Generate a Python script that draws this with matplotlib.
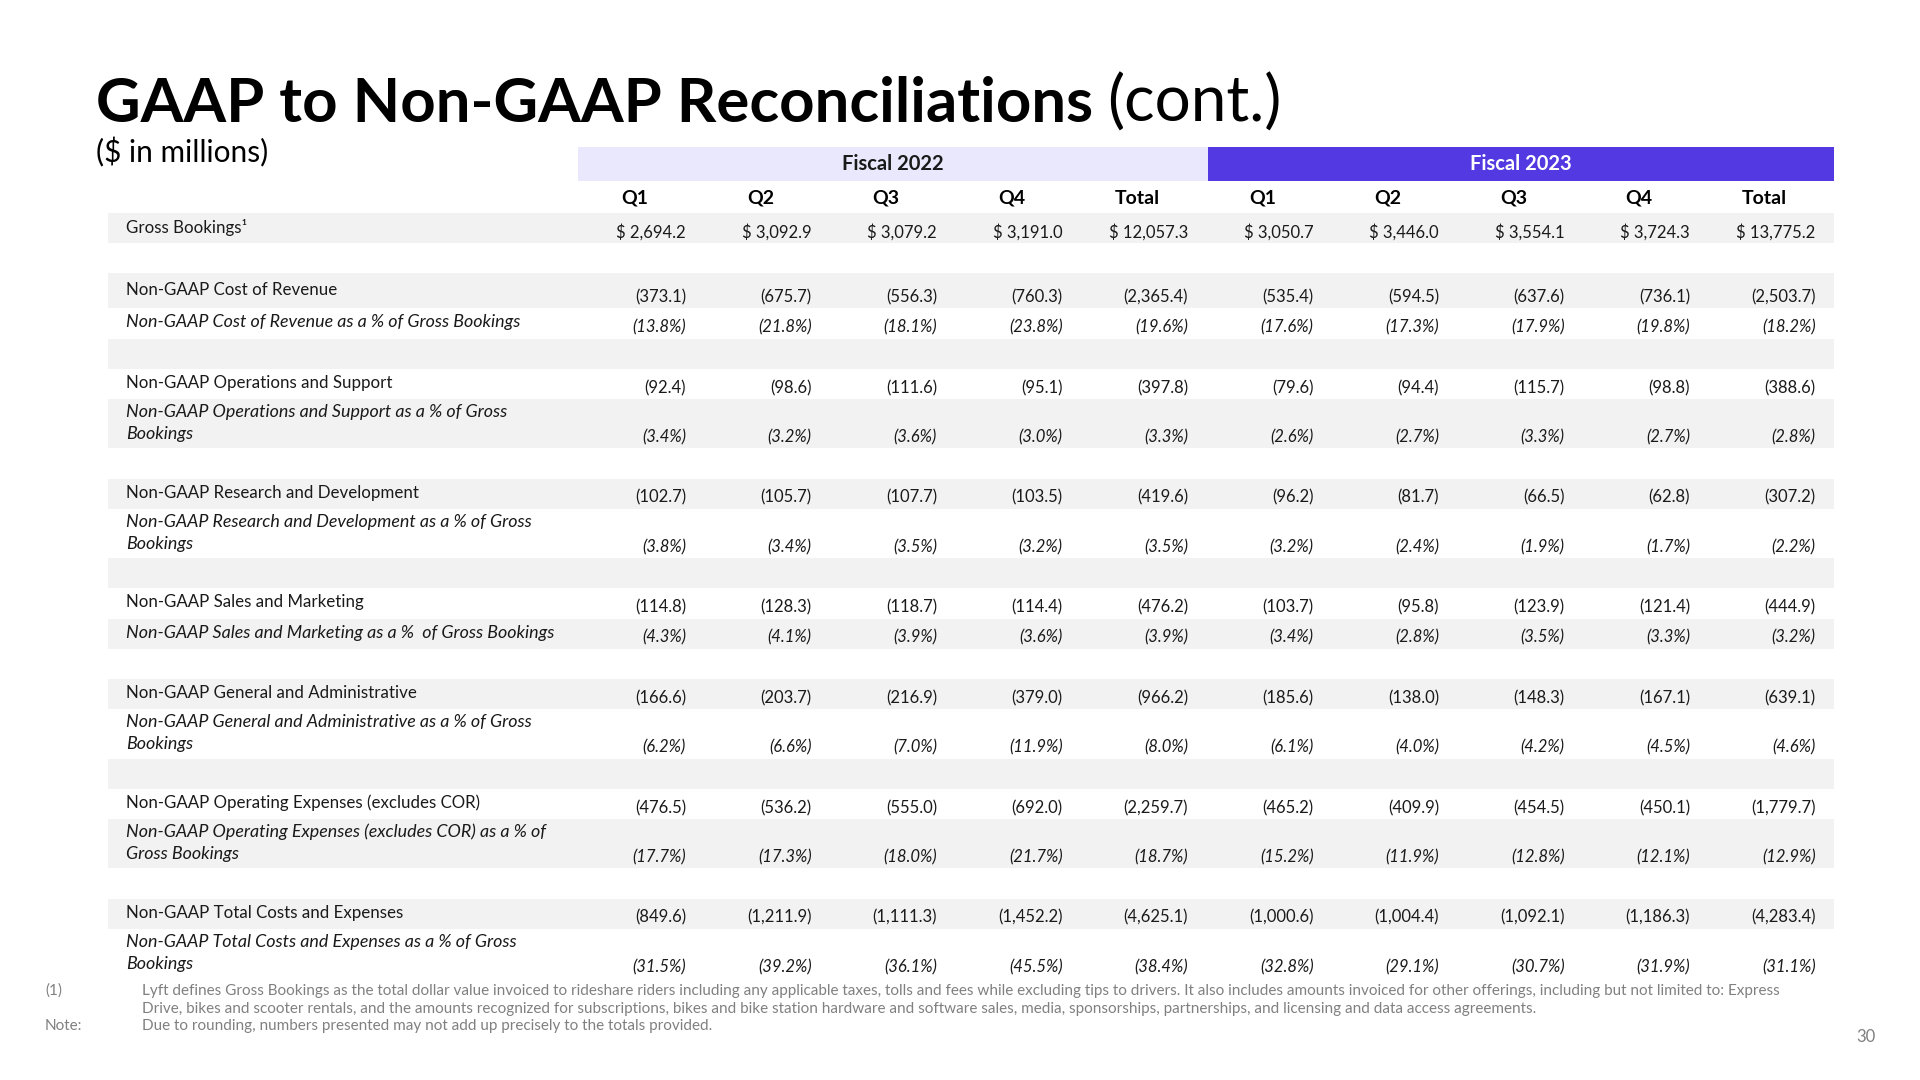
import matplotlib
matplotlib.use('Agg')
import matplotlib.pyplot as plt
from matplotlib.patches import Rectangle

# Global
plt.rcParams['font.family'] = ['Lato', 'DejaVu Sans']
plt.rcParams['font.size'] = 12

# Data ($ in millions)
years = ['Fiscal 2022', 'Fiscal 2023']
quarters = ['Q1', 'Q2', 'Q3', 'Q4', 'Total']

gross = [2694.2, 3092.9, 3079.2, 3191.0, 12057.3, 3050.7, 3446.0, 3554.1, 3724.3, 13775.2]
cor = [373.1, 675.7, 556.3, 760.3, 2365.4, 535.4, 594.5, 637.6, 736.1, 2503.7]
cor_pct = [13.8, 21.8, 18.1, 23.8, 19.6, 17.6, 17.3, 17.9, 19.8, 18.2]
ops = [92.4, 98.6, 111.6, 95.1, 397.8, 79.6, 94.4, 115.7, 98.8, 388.6]
ops_pct = [3.4, 3.2, 3.6, 3.0, 3.3, 2.6, 2.7, 3.3, 2.7, 2.8]
rd = [102.7, 105.7, 107.7, 103.5, 419.6, 96.2, 81.7, 66.5, 62.8, 307.2]
rd_pct = [3.8, 3.4, 3.5, 3.2, 3.5, 3.2, 2.4, 1.9, 1.7, 2.2]
sm = [114.8, 128.3, 118.7, 114.4, 476.2, 103.7, 95.8, 123.9, 121.4, 444.9]
sm_pct = [4.3, 4.1, 3.9, 3.6, 3.9, 3.4, 2.8, 3.5, 3.3, 3.2]
ga = [166.6, 203.7, 216.9, 379.0, 966.2, 185.6, 138.0, 148.3, 167.1, 639.1]
ga_pct = [6.2, 6.6, 7.0, 11.9, 8.0, 6.1, 4.0, 4.2, 4.5, 4.6]
opex = [476.5, 536.2, 555.0, 692.0, 2259.7, 465.2, 409.9, 454.5, 450.1, 1779.7]
opex_pct = [17.7, 17.3, 18.0, 21.7, 18.7, 15.2, 11.9, 12.8, 12.1, 12.9]
tce = [849.6, 1211.9, 1111.3, 1452.2, 4625.1, 1000.6, 1004.4, 1092.1, 1186.3, 4283.4]
tce_pct = [31.5, 39.2, 36.1, 45.5, 38.4, 32.8, 29.1, 30.7, 31.9, 31.1]

# (label, values, kind)  kind: 'usd', 'neg', 'pct', None for blank row
rows = [
    ('Gross Bookings\u00b9', gross, 'usd'),
    ('', None, None),
    ('Non-GAAP Cost of Revenue', cor, 'neg'),
    ('Non-GAAP Cost of Revenue as a % of Gross Bookings', cor_pct, 'pct'),
    ('', None, None),
    ('Non-GAAP Operations and Support', ops, 'neg'),
    ('Non-GAAP Operations and Support as a % of Gross\nBookings', ops_pct, 'pct'),
    ('', None, None),
    ('Non-GAAP Research and Development', rd, 'neg'),
    ('Non-GAAP Research and Development as a % of Gross\nBookings', rd_pct, 'pct'),
    ('', None, None),
    ('Non-GAAP Sales and Marketing', sm, 'neg'),
    ('Non-GAAP Sales and Marketing as a %  of Gross Bookings', sm_pct, 'pct'),
    ('', None, None),
    ('Non-GAAP General and Administrative', ga, 'neg'),
    ('Non-GAAP General and Administrative as a % of Gross\nBookings', ga_pct, 'pct'),
    ('', None, None),
    ('Non-GAAP Operating Expenses (excludes COR)', opex, 'neg'),
    ('Non-GAAP Operating Expenses (excludes COR) as a % of\nGross Bookings', opex_pct, 'pct'),
    ('', None, None),
    ('Non-GAAP Total Costs and Expenses', tce, 'neg'),
    ('Non-GAAP Total Costs and Expenses as a % of Gross\nBookings', tce_pct, 'pct'),
]

footnotes = [
    ('(1)', 'Lyft defines Gross Bookings as the total dollar value invoiced to rideshare riders including any applicable taxes, tolls and fees while excluding tips to drivers. It also includes amounts invoiced for other offerings, including but not limited to: Express\n'
            'Drive, bikes and scooter rentals, and the amounts recognized for subscriptions, bikes and bike station hardware and software sales, media, sponsorships, partnerships, and licensing and data access agreements.'),
    ('Note:', 'Due to rounding, numbers presented may not add up precisely to the totals provided.'),
]

# colors
GRAY = '#f2f2f2'
LAV = '#e9e8fc'
PURPLE = '#5339e2'
TXT = '#1a1a1a'
FOOT = '#808080'


def fmt(v, kind):
    if kind == 'usd':
        return '$ {:,.1f}'.format(v)
    if kind == 'pct':
        return '({:,.1f}%)'.format(v)
    return '({:,.1f})'.format(v)


fig = plt.figure(figsize=(19.2, 10.8), dpi=100)
ax = fig.add_axes([0, 0, 1, 1])
ax.set_xlim(0, 1920)
ax.set_ylim(1080, 0)
ax.axis('off')

# table geometry (pixels)
left, right = 108, 1834
label_x = 126
col_right0, col_step = 686, 125.5
ncol = 10
col_right = [col_right0 + col_step * i for i in range(ncol)]
h_single, h_double, h_cor = 30.2, 49.4, 35

# title
t = ax.text(96, 122, 'GAAP to Non-GAAP Reconciliations', fontsize=44.4, fontweight='bold',
            color='black', va='baseline', ha='left')
fig.canvas.draw()
bb = t.get_window_extent().transformed(ax.transData.inverted())
ax.text(bb.x1 + 14, 122, '(cont.)', fontsize=46, color='black', va='baseline', ha='left')
ax.text(96, 162, '($ in millions)', fontsize=21.5, color='black', va='baseline', ha='left')

# fiscal year header bands
band_top, band_h = 147, 34
band_left = 578
split = col_right[4] + 20
ax.add_patch(Rectangle((band_left, band_top), split - band_left, band_h, color=LAV, lw=0))
ax.add_patch(Rectangle((split, band_top), right - split, band_h, color=PURPLE, lw=0))
ax.text((band_left + split) / 2, band_top + band_h / 2, years[0], fontsize=14.5, fontweight='bold',
        color=TXT, ha='center', va='center')
ax.text((split + right) / 2, band_top + band_h / 2, years[1], fontsize=14.5, fontweight='bold',
        color='white', ha='center', va='center')

# quarter headers
for i in range(ncol):
    ax.text(col_right[i] - 51, 198, quarters[i % 5], fontsize=14, fontweight='bold',
            color='black', ha='center', va='center')

# body rows
y = 213
for k, (label, vals, kind) in enumerate(rows):
    two_lines = '\n' in label
    if two_lines:
        h = h_double
    elif label == 'Non-GAAP Cost of Revenue':
        h = h_cor
    else:
        h = h_single
    if k % 2 == 0:
        ax.add_patch(Rectangle((left, y), right - left, h, color=GRAY, lw=0))
    italic = kind == 'pct'
    style = 'italic' if italic else 'normal'
    lsize = 12.9 if italic else 12.2
    if two_lines:
        for j, line in enumerate(label.split('\n')):
            ax.text(label_x, y + 13 + 22 * j, line, fontsize=lsize, style=style, color=TXT,
                    ha='left', va='center')
    else:
        ax.text(label_x, y + h / 2 - 1, label, fontsize=lsize, style=style, color=TXT,
                ha='left', va='center')
    if vals is not None:
        for i, v in enumerate(vals):
            ax.text(col_right[i], y + h - 11, fmt(v, kind), fontsize=12, style=style,
                    color=TXT, ha='right', va='center')
    y += h

# footnotes
fy = 991
for mark, note in footnotes:
    ax.text(45, fy, mark, fontsize=11, color=FOOT, ha='left', va='center')
    for line in note.split('\n'):
        ax.text(142, fy, line, fontsize=11, color=FOOT, ha='left', va='center')
        fy += 17.5
ax.text(1876, 1037, '30', fontsize=12, color=FOOT, ha='right', va='center')

fig.savefig('out.png', dpi=100, facecolor='white')
